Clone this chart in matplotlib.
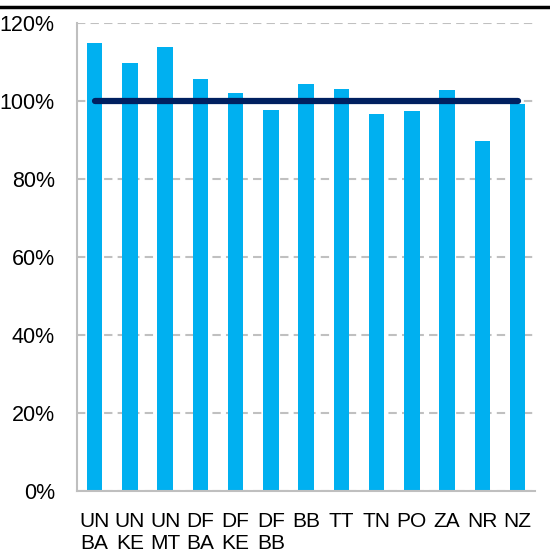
import matplotlib
matplotlib.use("Agg")
import matplotlib.pyplot as plt
from matplotlib.lines import Line2D
import numpy as np

# bar values (% of target)
labels = ["UN\nBA", "UN\nKE", "UN\nMT", "DF\nBA", "DF\nKE", "DF\nBB", "BB", "TT",
          "TN", "PO", "ZA", "NR", "NZ"]
values = [114.9, 109.7, 113.8, 105.6, 102.0, 97.6, 104.3, 103.0, 96.7, 97.5, 102.7, 89.7, 99.2]
target = 100
yticks = [0, 20, 40, 60, 80, 100, 120]

plt.rcParams['font.family'] = ['Liberation Sans Narrow', 'Liberation Sans', 'DejaVu Sans']

fig = plt.figure(figsize=(5.5, 5.58), dpi=100)
ax = fig.add_axes([0.14, 0.12, 0.833, 0.8388])

x = np.arange(len(labels))
ax.bar(x, values, width=0.44, color='#00B0F0', zorder=2)
ax.plot([x[0], x[-1]], [target, target], color='#002060', linewidth=4.5,
        solid_capstyle='round', zorder=3)

ax.set_xlim(-0.5, len(labels) - 0.5)
ax.set_ylim(0, 120)
ax.set_yticks(yticks)
ax.set_yticklabels([f"{t}%" for t in yticks], fontsize=15.5)
ax.set_xticks(x)
ax.set_xticklabels(labels, fontsize=15, linespacing=1.2)
ax.tick_params(axis='y', length=0, pad=16)
ax.tick_params(axis='x', length=0, pad=15)

ax.yaxis.grid(True, color='#c0c0c0', linestyle=(0, (4, 2.5)), linewidth=1.5, zorder=0)
ax.set_axisbelow(True)
for s in ['top', 'right']:
    ax.spines[s].set_visible(False)
for s in ['left', 'bottom']:
    ax.spines[s].set_color('#bfbfbf')
    ax.spines[s].set_linewidth(1.5)

# heavy rule under the (cropped) title
fig.add_artist(Line2D([0, 1], [1 - 7 / 558, 1 - 7 / 558], color='black', linewidth=2.5,
                      transform=fig.transFigure))

fig.savefig("out.png", dpi=100)
